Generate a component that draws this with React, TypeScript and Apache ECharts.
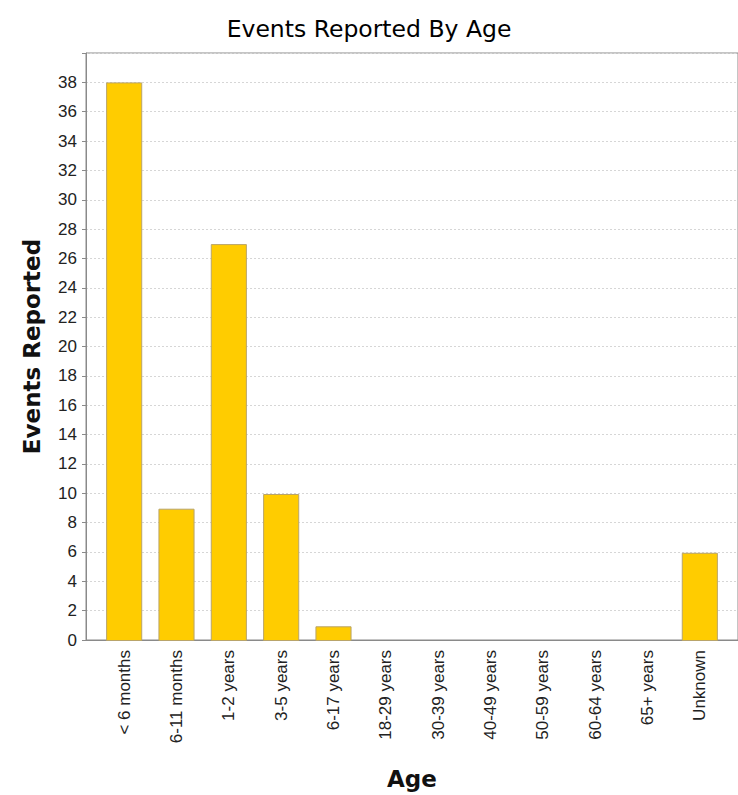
import React, { useEffect, useRef } from "react";
import * as echarts from "echarts";

const categories = [
  "< 6 months",
  "6-11 months",
  "1-2 years",
  "3-5 years",
  "6-17 years",
  "18-29 years",
  "30-39 years",
  "40-49 years",
  "50-59 years",
  "60-64 years",
  "65+ years",
  "Unknown",
];
const eventsReported = [38, 9, 27, 10, 1, 0, 0, 0, 0, 0, 0, 6];
const yMin = 0;
const yMax = 40;
const yInterval = 2;

export default function App() {
  const ref = useRef<HTMLDivElement>(null);
  useEffect(() => {
    if (!ref.current) return;
    const chart = echarts.init(ref.current, undefined, { renderer: "svg" });
    const barData = eventsReported.map((v) =>
      v === 0 ? { value: v, itemStyle: { borderWidth: 0 } } : v
    );
    chart.setOption({
      animation: false,
      backgroundColor: "#ffffff",
      title: {
        text: "Events Reported By Age",
        left: "center",
        top: 12,
        textStyle: {
          fontFamily: "DejaVu Sans",
          fontSize: 23.5,
          fontWeight: "normal",
          color: "#000",
        },
      },
      grid: [
        { left: 98, right: 12, top: 53, bottom: 154, containLabel: false },
        {
          left: 86,
          right: -2,
          top: 53,
          bottom: 154,
          show: true,
          borderColor: "#8a8a8a",
          borderWidth: 1,
          backgroundColor: "transparent",
        },
      ],
      xAxis: [
        {
          gridIndex: 0,
          type: "category",
          data: categories,
          axisLine: { show: false },
          axisTick: { show: false },
          axisLabel: {
            rotate: 90,
            margin: 9,
            fontFamily: "Liberation Sans",
            fontSize: 17,
            color: "#222",
          },
        },
        {
          gridIndex: 1,
          type: "value",
          min: 0,
          max: 1,
          axisLine: { show: true, lineStyle: { color: "#8a8a8a" } },
          axisTick: { show: false },
          axisLabel: { show: false },
          splitLine: { show: false },
          name: "Age",
          nameLocation: "middle",
          nameGap: 127,
          nameTextStyle: {
            fontFamily: "DejaVu Sans",
            fontSize: 23,
            fontWeight: "bold",
            color: "#111",
          },
        },
      ],
      yAxis: [
        {
          gridIndex: 0,
          type: "value",
          min: yMin,
          max: yMax,
          interval: yInterval,
          show: false,
          splitLine: { show: false },
        },
        {
          gridIndex: 1,
          type: "value",
          min: yMin,
          max: yMax,
          interval: yInterval,
          axisLine: { show: true, lineStyle: { color: "#8a8a8a" } },
          axisTick: { show: true, length: 4, lineStyle: { color: "#8a8a8a" } },
          axisLabel: {
            margin: 9,
            fontFamily: "Liberation Sans",
            fontSize: 17,
            color: "#222",
            formatter: (v: number) => (v === yMax ? "" : String(v)),
          },
          splitLine: {
            show: true,
            lineStyle: { color: "#d6d6d6", type: [2, 2], width: 1 },
          },
          name: "Events Reported",
          nameLocation: "middle",
          nameGap: 43,
          nameTextStyle: {
            fontFamily: "DejaVu Sans",
            fontSize: 23,
            fontWeight: "bold",
            color: "#111",
          },
        },
      ],
      series: [
        {
          type: "bar",
          xAxisIndex: 0,
          yAxisIndex: 0,
          data: barData,
          barWidth: "69%",
          itemStyle: {
            color: "#ffcc00",
            borderColor: "#b9a46a",
            borderWidth: 1,
          },
        },
      ],
    });
    return () => chart.dispose();
  }, []);
  return <div ref={ref} style={{ width: 738, height: 795, position: "absolute", left: 0, top: 0 }} />;
}
